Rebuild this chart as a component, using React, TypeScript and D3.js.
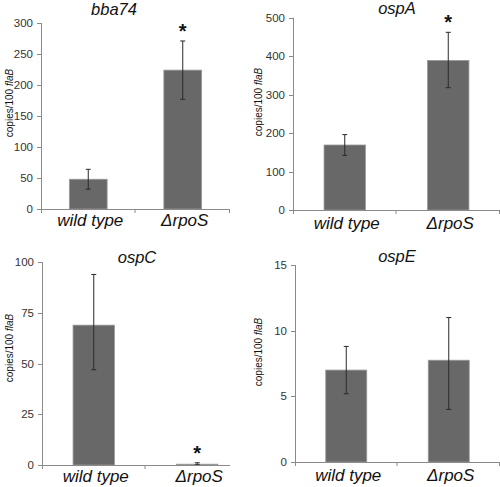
import React from "react";
import * as d3 from "d3";

const categories = ["wild type", "ΔrpoS"];

const bba74Means = [48, 224];
const bba74Upper = [64, 271];
const bba74Lower = [32, 177];
const bba74Ticks = [0, 50, 100, 150, 200, 250, 300];
const bba74Sig = [false, true];

const ospAMeans = [169, 389];
const ospAUpper = [196, 462];
const ospALower = [142, 318];
const ospATicks = [0, 100, 200, 300, 400, 500];
const ospASig = [false, true];

const ospCMeans = [69, 0.4];
const ospCUpper = [94, 1.1];
const ospCLower = [47, 0.1];
const ospCTicks = [0, 25, 50, 75, 100];
const ospCSig = [false, true];

const ospEMeans = [7.0, 7.75];
const ospEUpper = [8.8, 11.0];
const ospELower = [5.2, 4.0];
const ospETicks = [0, 5, 10, 15];
const ospESig = [false, false];

type PanelProps = {
  title: string;
  means: number[];
  upper: number[];
  lower: number[];
  ticks: number[];
  sig: boolean[];
  x0: number;
  x1: number;
  lineEnd: number;
  yTop: number;
  yBase: number;
  titleX: number;
  titleY: number;
  labelX: number;
  labelY: number;
  catY: number;
};

const AXIS = "#8a8a8a";
const BAR = "#686868";
const BAR_EDGE = "#9a9a9a";
const FONT = "Liberation Sans, Arial, sans-serif";

function Panel(p: PanelProps) {
  const yMax = p.ticks[p.ticks.length - 1];
  const y = d3.scaleLinear().domain([0, yMax]).range([p.yBase, p.yTop]);
  const x = d3.scaleBand<string>().domain(categories).range([p.x0, p.x1]).paddingInner(0.6).paddingOuter(0.3);
  const band = d3.scaleBand<string>().domain(categories).range([p.x0, p.x1]);
  const bw = x.bandwidth();
  const boundaries = categories.map((c) => (band(c) as number) + band.bandwidth()).filter((v) => v <= p.lineEnd + 1);
  return (
    <g>
      <text x={p.titleX} y={p.titleY} textAnchor="middle" fontFamily={FONT} fontStyle="italic" fontSize={16.5} fill="#111">
        {p.title}
      </text>
      <text
        transform={`translate(${p.labelX},${p.labelY}) rotate(-90)`}
        textAnchor="middle"
        fontFamily={FONT}
        fontSize={10}
        fill="#111"
      >
        copies/100 <tspan fontStyle="italic">flaB</tspan>
      </text>
      {/* y axis */}
      <line x1={p.x0 + 0.5} x2={p.x0 + 0.5} y1={p.yTop} y2={p.yBase + 4} stroke={AXIS} strokeWidth={1} />
      {p.ticks.map((t) => (
        <g key={t}>
          <line x1={p.x0 - 4} x2={p.x0 + 0.5} y1={Math.round(y(t)) + 0.5} y2={Math.round(y(t)) + 0.5} stroke={AXIS} />
          <text x={p.x0 - 8} y={y(t)} dy="0.35em" textAnchor="end" fontFamily={FONT} fontSize={11.5} fill="#333">
            {t}
          </text>
        </g>
      ))}
      {/* bars */}
      {categories.map((c, i) => {
        const bx = x(c) as number;
        const cx = bx + bw / 2;
        return (
          <g key={c}>
            <rect
              x={bx}
              y={y(p.means[i])}
              width={bw}
              height={Math.max(0.8, p.yBase - y(p.means[i]))}
              fill={BAR}
              stroke={BAR_EDGE}
              strokeWidth={0.8}
            />
            <line x1={cx} x2={cx} y1={y(p.upper[i])} y2={y(p.lower[i])} stroke="#2a2a2a" strokeWidth={1} />
            <line x1={cx - 2.5} x2={cx + 2.5} y1={y(p.upper[i])} y2={y(p.upper[i])} stroke="#2a2a2a" strokeWidth={1} />
            <line x1={cx - 2.5} x2={cx + 2.5} y1={y(p.lower[i])} y2={y(p.lower[i])} stroke="#2a2a2a" strokeWidth={1} />
            {p.sig[i] && (
              <text x={cx} y={y(p.upper[i]) - 3} textAnchor="middle" fontFamily={FONT} fontWeight="bold" fontSize={20} fill="#111">
                *
              </text>
            )}
            <text
              x={cx + 2}
              y={p.catY}
              textAnchor="middle"
              fontFamily={FONT}
              fontStyle="italic"
              fontSize={17}
              fill="#111"
            >
              {c}
            </text>
          </g>
        );
      })}
      {/* x axis */}
      <line x1={p.x0} x2={p.lineEnd} y1={Math.round(p.yBase) + 0.5} y2={Math.round(p.yBase) + 0.5} stroke={AXIS} />
      {boundaries.map((b, i) => (
        <line key={i} x1={b - 0.5} x2={b - 0.5} y1={p.yBase} y2={p.yBase + 4} stroke={AXIS} />
      ))}
    </g>
  );
}

export default function App() {
  return (
    <svg
      width={500}
      height={487}
      viewBox="0 0 500 487"
      style={{ position: "absolute", left: 0, top: 0, background: "#fff" }}
    >
      <rect width={500} height={487} fill="#fff" />
      <Panel
        title="bba74"
        means={bba74Means}
        upper={bba74Upper}
        lower={bba74Lower}
        ticks={bba74Ticks}
        sig={bba74Sig}
        x0={41}
        x1={230}
        lineEnd={230}
        yTop={23}
        yBase={209}
        titleX={114}
        titleY={15}
        labelX={13}
        labelY={103}
        catY={226}
      />
      <Panel
        title="ospA"
        means={ospAMeans}
        upper={ospAUpper}
        lower={ospALower}
        ticks={ospATicks}
        sig={ospASig}
        x0={293}
        x1={500}
        lineEnd={500}
        yTop={17.7}
        yBase={210}
        titleX={397}
        titleY={14}
        labelX={262}
        labelY={102}
        catY={229}
      />
      <Panel
        title="ospC"
        means={ospCMeans}
        upper={ospCUpper}
        lower={ospCLower}
        ticks={ospCTicks}
        sig={ospCSig}
        x0={42}
        x1={249}
        lineEnd={230}
        yTop={262.3}
        yBase={465}
        titleX={137}
        titleY={263}
        labelX={13}
        labelY={348}
        catY={482}
      />
      <Panel
        title="ospE"
        means={ospEMeans}
        upper={ospEUpper}
        lower={ospELower}
        ticks={ospETicks}
        sig={ospESig}
        x0={295}
        x1={500}
        lineEnd={500}
        yTop={265}
        yBase={462}
        titleX={397}
        titleY={262}
        labelX={262}
        labelY={352}
        catY={481}
      />
    </svg>
  );
}
